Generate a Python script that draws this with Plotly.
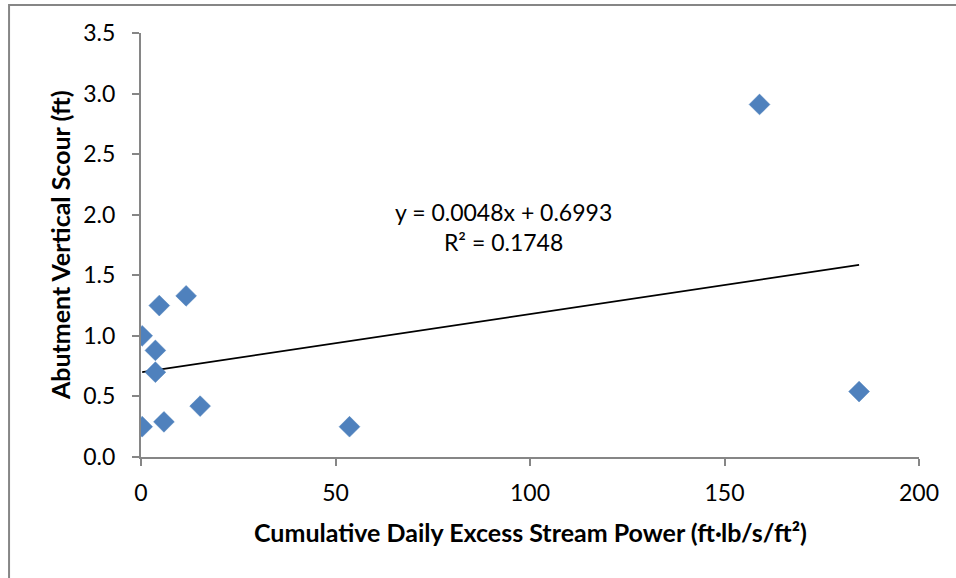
import plotly.graph_objects as go

# Cumulative daily excess stream power (ft·lb/s/ft²) and abutment vertical scour (ft)
stream_power = [0.3, 0.3, 3.7, 3.7, 4.7, 5.9, 11.6, 15.2, 53.6, 159.0, 184.6]
vertical_scour = [1.00, 0.25, 0.88, 0.70, 1.25, 0.29, 1.33, 0.42, 0.25, 2.91, 0.54]

# Linear trendline coefficients and fit quality
slope = 0.0048
intercept = 0.6993
r_squared = 0.1748

x_ticks = [0, 50, 100, 150, 200]
y_ticks = [0.0, 0.5, 1.0, 1.5, 2.0, 2.5, 3.0, 3.5]

FONT = "Lato"
AXIS_GRAY = "#868686"

trend_x = [min(stream_power), max(stream_power)]
trend_y = [slope * v + intercept for v in trend_x]

fig = go.Figure()
fig.add_trace(go.Scatter(
    x=trend_x, y=trend_y, mode="lines",
    line=dict(color="black", width=1.75),
    hoverinfo="skip", showlegend=False,
))
fig.add_trace(go.Scatter(
    x=stream_power, y=vertical_scour, mode="markers",
    marker=dict(symbol="diamond", size=16, color="#4F81BD",
                line=dict(color="#4A7EBB", width=0.5)),
    showlegend=False,
))

fig.add_annotation(
    x=93.1, y=1.90, xref="x", yref="y",
    text=f"y = {slope:.4f}x + {intercept:.4f}<br>R² = {r_squared:.4f}",
    showarrow=False, align="center", xanchor="center", yanchor="middle",
    font=dict(family=FONT, size=23, color="black"),
)
fig.add_annotation(
    x=0.5, y=-0.178, xref="paper", yref="paper",
    xanchor="center", yanchor="middle",
    text="<b>Cumulative Daily Excess Stream Power (ft·lb/s/ft²)</b>",
    showarrow=False, font=dict(family=FONT, size=25, color="black"),
)
fig.add_annotation(
    x=-0.104, y=0.5, xref="paper", yref="paper",
    xanchor="center", yanchor="middle",
    text="<b>Abutment Vertical Scour (ft)</b>", textangle=-90,
    showarrow=False, font=dict(family=FONT, size=25, color="black"),
)

# chart-area frame (left and top edges fall inside the page)
fig.add_shape(
    type="rect", xref="paper", yref="paper",
    x0=-0.1696, x1=1.3, y0=-0.5, y1=1.066,
    line=dict(color=AXIS_GRAY, width=2), fillcolor="rgba(0,0,0,0)",
    layer="below",
)

fig.update_xaxes(
    range=[0, 200], tickvals=x_ticks, ticktext=[str(v) for v in x_ticks],
    showgrid=False, zeroline=False, showline=True,
    linecolor=AXIS_GRAY, linewidth=2,
    ticks="outside", ticklen=7, tickwidth=2, tickcolor=AXIS_GRAY,
    ticklabelstandoff=7,
    tickfont=dict(family=FONT, size=23, color="black"),
)
fig.update_yaxes(
    range=[0, 3.5], tickvals=y_ticks, ticktext=[f"{v:.1f}" for v in y_ticks],
    showgrid=False, zeroline=False, showline=True,
    linecolor=AXIS_GRAY, linewidth=2,
    ticks="outside", ticklen=7, tickwidth=2, tickcolor=AXIS_GRAY,
    ticklabelstandoff=12,
    tickfont=dict(family=FONT, size=23, color="black"),
)

fig.update_layout(
    width=956, height=578,
    margin=dict(l=141, r=37, t=33, b=121),
    paper_bgcolor="white", plot_bgcolor="white",
    showlegend=False,
)

fig.write_html("out.html")
